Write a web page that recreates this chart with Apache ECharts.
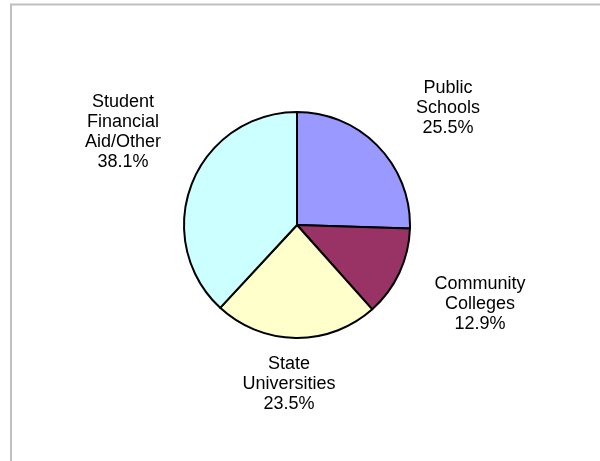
<!DOCTYPE html>
<html>
<head>
<meta charset="utf-8">
<script src="https://cdn.jsdelivr.net/npm/echarts@6/dist/echarts.min.js"></script>
<style>
  html, body { margin: 0; padding: 0; background: #ffffff; }
  #chart { width: 600px; height: 461px; }
</style>
</head>
<body>
<div id="chart"></div>
<script>
// ---- data ----
const categories = ['Public\nSchools', 'Community\nColleges', 'State\nUniversities', 'Student\nFinancial\nAid/Other'];
const shares = [25.5, 12.9, 23.5, 38.1];
const sliceColors = ['#9999FF', '#993366', '#FFFFCC', '#CCFFFF'];

// ---- layout (label anchors relative to pie centre, px) ----
const pieCenter = [297, 225];
const pieRadius = 113;
const labelOffsets = [[151, -117], [183, 79], [-8, 159], [-174, -93]];

const chart = echarts.init(document.getElementById('chart'), null, { renderer: 'canvas' });

chart.setOption({
  backgroundColor: '#ffffff',
  animation: false,
  graphic: [{
    type: 'polyline',
    shape: { points: [[11, 461], [11, 4.5], [600, 4.5]] },
    style: { stroke: '#c0c0c0', lineWidth: 2, fill: null },
    silent: true
  }],
  series: [{
    type: 'pie',
    center: pieCenter,
    radius: pieRadius,
    startAngle: 90,
    clockwise: true,
    avoidLabelOverlap: false,
    emphasis: { disabled: true },
    itemStyle: { borderColor: '#000000', borderWidth: 2 },
    label: {
      show: true,
      position: 'outside',
      color: '#000000',
      fontFamily: '"Liberation Sans", Arial, sans-serif',
      fontSize: 18,
      lineHeight: 20,
      align: 'center',
      formatter: function (p) { return p.name + '\n' + p.value.toFixed(1) + '%'; }
    },
    labelLine: { show: false },
    labelLayout: function (p) {
      const o = labelOffsets[p.dataIndex];
      return { x: pieCenter[0] + o[0], y: pieCenter[1] + o[1], align: 'center', verticalAlign: 'middle' };
    },
    data: categories.map(function (c, i) {
      return { name: c, value: shares[i], itemStyle: { color: sliceColors[i] } };
    })
  }]
});
</script>
</body>
</html>
